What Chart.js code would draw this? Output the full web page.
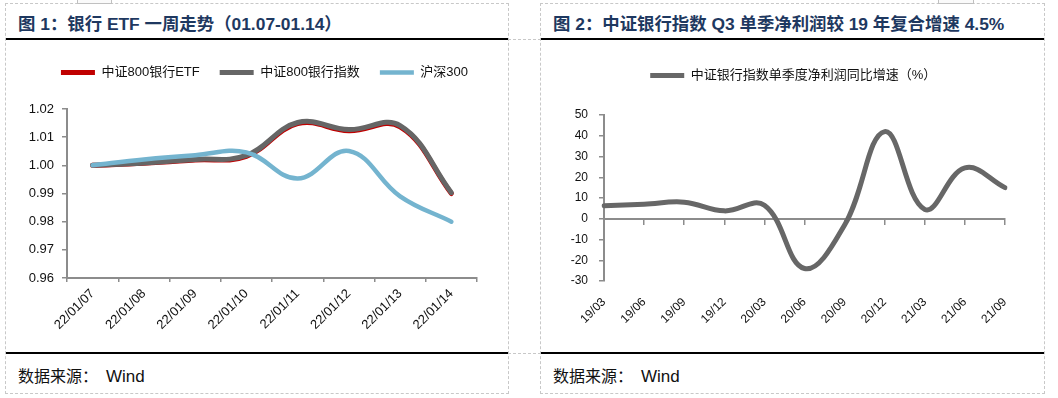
<!DOCTYPE html>
<html>
<head>
<meta charset="utf-8">
<script src="https://cdn.jsdelivr.net/npm/chart.js@4.4.1/dist/chart.umd.min.js"></script>
<style>
  body { margin: 0; background: #fff; width: 1058px; height: 398px; position: relative; overflow: hidden;
         font-family: "Liberation Sans", "Noto Sans CJK SC", sans-serif; }
  .panel { position: absolute; border: 1px dashed #c8c8c8; box-sizing: border-box; }
  .dash { position: absolute; border-top: 1px dashed #c8c8c8; height: 0; }
  .rule { position: absolute; height: 2px; background: #000; }
  .tab { position: absolute; top: -1px; height: 3px; border: 1px solid #c0c0c0; background: #fafafa; }
  .title { position: absolute; top: 10px; font-size: 17.4px; font-weight: 700; color: #1e3860; white-space: nowrap; }
  .source { position: absolute; top: 363px; font-size: 16px; color: #111; white-space: nowrap; }
  .source span { font-size: 17px; margin-left: 8px; }
  canvas { position: absolute; }
</style>
</head>
<body>
<div class="panel" style="left:5px;top:3px;width:504px;height:391px"></div>
<div class="panel" style="left:540px;top:3px;width:505px;height:391px"></div>
<div class="dash" style="left:508px;top:39px;width:33px"></div>
<div class="dash" style="left:508px;top:353px;width:33px"></div>
<div class="tab" style="left:77px;width:33px"></div>
<div class="tab" style="left:938px;width:34px"></div>

<div class="rule" style="left:6px;top:38px;width:502px"></div>
<div class="rule" style="left:541px;top:38px;width:503px"></div>
<div class="rule" style="left:6px;top:352px;width:502px"></div>
<div class="rule" style="left:541px;top:352px;width:503px"></div>

<div class="title" style="left:18px">图 1：银行 ETF 一周走势（01.07-01.14）</div>
<div class="title" style="left:553px">图 2：中证银行指数 Q3 单季净利润较 19 年复合增速 4.5%</div>
<div class="source" style="left:18px">数据来源：<span>Wind</span></div>
<div class="source" style="left:553px">数据来源：<span>Wind</span></div>

<canvas id="weekChart" width="502" height="311" style="left:6px;top:41px"></canvas>
<canvas id="profitChart" width="503" height="311" style="left:541px;top:41px"></canvas>

<script>
// 图1 data
const tradeDates = ["22/01/07", "22/01/08", "22/01/09", "22/01/10", "22/01/11", "22/01/12", "22/01/13", "22/01/14"];
const bankEtf = [1.000, 1.0007, 1.0019, 1.0032, 1.0148, 1.0123, 1.0137, 0.9900];
const bankIndex800 = [1.000, 1.0008, 1.0021, 1.0035, 1.0152, 1.0127, 1.0141, 0.9903];
const hs300 = [1.000, 1.0021, 1.0036, 1.0046, 0.9953, 1.0051, 0.9890, 0.9800];
const weekTicks = [0.96, 0.97, 0.98, 0.99, 1.00, 1.01, 1.02];

// 图2 data
const quarters = ["19/03", "19/06", "19/09", "19/12", "20/03", "20/06", "20/09", "20/12", "21/03", "21/06", "21/09"];
const profitGrowth = [6.3, 7.0, 8.0, 3.8, 6.5, -24.0, -3.0, 42.0, 4.5, 24.5, 15.0];
const profitTicks = [-30, -20, -10, 0, 10, 20, 30, 40, 50];

Chart.defaults.font.family = '"Liberation Sans", "Noto Sans CJK SC", sans-serif';
Chart.defaults.color = "#111";

const AXIS_GREY = "#8c8c8c";

// push the plot down below the legend by a fixed amount
function legendGap(extra) {
  return {
    id: "legendGap",
    beforeInit(chart) {
      const fit = chart.legend.fit;
      chart.legend.fit = function () {
        fit.call(this);
        this.height += extra;
      };
    },
  };
}

// empty right-hand axis, only reserves space so the legend stays full width
function spacerAxis(width) {
  return {
    type: "linear",
    position: "right",
    grid: { display: false },
    border: { display: false },
    ticks: { display: false },
    afterFit: (s) => { s.width = width; },
  };
}

function lineSet(label, data, color, width, order) {
  return {
    label,
    data,
    borderColor: color,
    backgroundColor: color,
    borderWidth: width,
    borderCapStyle: "round",
    pointRadius: 0,
    tension: 0.4,
    fill: false,
    order,
  };
}

new Chart(document.getElementById("weekChart"), {
  type: "line",
  data: {
    labels: tradeDates,
    datasets: [
      lineSet("中证800银行ETF", bankEtf, "#c00000", 5, 3),
      lineSet("中证800银行指数", bankIndex800, "#666666", 5, 2),
      lineSet("沪深300", hs300, "#74b4cf", 4.5, 1),
    ],
  },
  options: {
    responsive: false,
    animation: false,
    layout: { padding: { left: 15, right: 0, top: 5, bottom: 0 } },
    plugins: {
      tooltip: { enabled: false },
      legend: {
        position: "top",
        labels: {
          usePointStyle: true,
          pointStyle: "line",
          pointStyleWidth: 34,
          padding: 20,
          font: { size: 13 },
          color: "#111",
          sort: (a, b) => a.datasetIndex - b.datasetIndex,
        },
      },
    },
    scales: {
      x: {
        offset: true,
        grid: { offset: true, drawOnChartArea: false, tickLength: 4, color: AXIS_GREY, lineWidth: 1.5 },
        border: { color: AXIS_GREY, width: 2 },
        ticks: { minRotation: 45, maxRotation: 45, autoSkip: false, padding: 4, font: { size: 13 }, color: "#111" },
        afterFit: (s) => { s.height = 74; },
      },
      y: {
        min: 0.96,
        max: 1.02,
        afterBuildTicks: (s) => { s.ticks = weekTicks.map((v) => ({ value: v })); },
        grid: { drawOnChartArea: false, tickLength: 5, color: AXIS_GREY, lineWidth: 1.5 },
        border: { color: AXIS_GREY, width: 2 },
        ticks: { padding: 8, font: { size: 13 }, color: "#111", callback: (v) => Number(v).toFixed(2) },
        afterFit: (s) => { s.width = 46; },
      },
      yPad: spacerAxis(31),
    },
  },
  plugins: [legendGap(20)],
});

new Chart(document.getElementById("profitChart"), {
  type: "line",
  data: {
    labels: quarters,
    datasets: [lineSet("中证银行指数单季度净利润同比增速（%）", profitGrowth, "#676767", 5, 1)],
  },
  options: {
    responsive: false,
    animation: false,
    layout: { padding: { left: 1.5, right: 0, top: 18, bottom: 0 } },
    plugins: {
      tooltip: { enabled: false },
      legend: {
        position: "top",
        labels: {
          usePointStyle: true,
          pointStyle: "line",
          pointStyleWidth: 34,
          padding: 10,
          font: { size: 13 },
          color: "#111",
        },
      },
    },
    scales: {
      x: {
        offset: false,
        grid: { display: false },
        border: { display: false },
        ticks: { minRotation: 45, maxRotation: 45, autoSkip: false, padding: 6, font: { size: 12 }, color: "#111" },
        afterFit: (s) => { s.height = 71; },
      },
      x0: {
        type: "category",
        axis: "x",
        position: { y: 0 },
        offset: false,
        grid: { drawOnChartArea: false, tickLength: 5, color: AXIS_GREY, lineWidth: 1.5 },
        border: { color: AXIS_GREY, width: 2 },
        ticks: { display: false },
      },
      y: {
        min: -30,
        max: 50,
        afterBuildTicks: (s) => { s.ticks = profitTicks.map((v) => ({ value: v })); },
        grid: { drawOnChartArea: false, tickLength: 5, color: AXIS_GREY, lineWidth: 1.5 },
        border: { color: AXIS_GREY, width: 2 },
        ticks: { padding: 11, font: { size: 12 }, color: "#111" },
        afterFit: (s) => { s.width = 61.5; },
      },
      yPad: spacerAxis(39),
    },
  },
  plugins: [legendGap(23)],
});
</script>
</body>
</html>
